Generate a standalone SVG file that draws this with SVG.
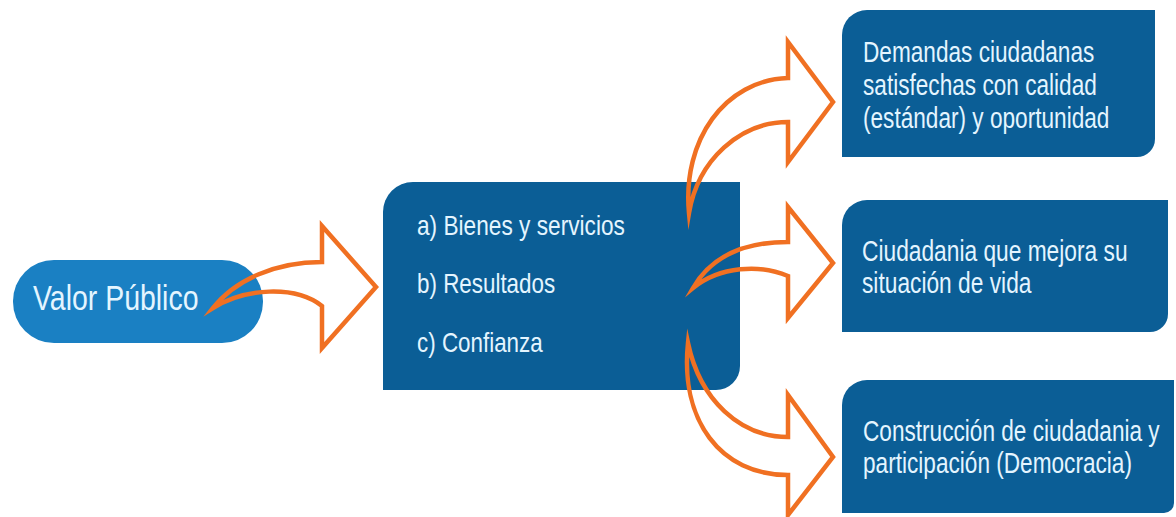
<svg xmlns="http://www.w3.org/2000/svg" width="1176" height="517" viewBox="0 0 1176 517">
<style>
.box{fill:#0b5e96}
.pill{fill:#1a80c3}
.t{font-family:"Liberation Sans",Arial,sans-serif;fill:#e4f5ff}
.m{font-size:27px}
.r{font-size:29px}
.arrow{fill:none;stroke:#f07022;stroke-width:4.5;stroke-linejoin:miter;stroke-miterlimit:10}
</style>
<rect width="1176" height="517" fill="#ffffff"/>
<g id="valor">
<rect class="pill" x="13" y="260" width="250" height="83" rx="41" ry="41"/>
<text class="t" font-size="36" transform="translate(33,310) scale(0.79,1)">Valor Público</text>
</g>
<g id="centro">
<path class="box" d="M383,212 A30,30 0 0 1 413,182 H740 V366 A24,24 0 0 1 716,390 H383 Z"/>
<text class="t m" transform="translate(417,235) scale(0.84,1)">a) Bienes y servicios</text>
<text class="t m" transform="translate(417,293) scale(0.83,1)">b) Resultados</text>
<text class="t m" transform="translate(417,352) scale(0.83,1)">c) Confianza</text>
</g>
<g id="demandas">
<path class="box" d="M842,35 A25,25 0 0 1 867,10 H1155 V139 A18,18 0 0 1 1137,157 H842 Z"/>
<text class="t r" transform="translate(863,62) scale(0.78,1)">Demandas ciudadanas</text>
<text class="t r" transform="translate(863,95) scale(0.78,1)">satisfechas con calidad</text>
<text class="t r" transform="translate(863,128) scale(0.78,1)">(estándar) y oportunidad</text>
</g>
<g id="ciudadania">
<path class="box" d="M842,225 A25,25 0 0 1 867,200 H1168 V314 A18,18 0 0 1 1150,332 H842 Z"/>
<text class="t r" transform="translate(862,261) scale(0.785,1)">Ciudadania que mejora su</text>
<text class="t r" transform="translate(862,293) scale(0.785,1)">situación de vida</text>
</g>
<g id="construccion">
<path class="box" d="M842,405 A25,25 0 0 1 867,380 H1174 V503 A10,10 0 0 1 1164,513 H842 Z"/>
<text class="t r" transform="translate(863,441) scale(0.78,1)">Construcción de ciudadania y</text>
<text class="t r" transform="translate(863,473) scale(0.78,1)">participación (Democracia)</text>
</g>
<g id="connectors">
<path class="arrow" d="M213,308 C235,280 275,262 322,262 L322,226 L376,287 L322,348 L322,306 C295,285 245,288 213,308 Z"/>
<path class="arrow" d="M689,213 C682,140 725,80 788,78 L788,42 L833,102 L788,162 L788,122 C740,122 698,160 689,213 Z"/>
<path class="arrow" d="M693,288 C712,255 745,242 788,242 L788,207 L833,263 L788,318 L788,276 C760,264 720,266 693,288 Z"/>
<path class="arrow" d="M688,343 C680,420 720,475 788,475 L788,515 L833,457 L788,395 L788,437 C740,437 700,400 688,343 Z"/>
</g>
</svg>
